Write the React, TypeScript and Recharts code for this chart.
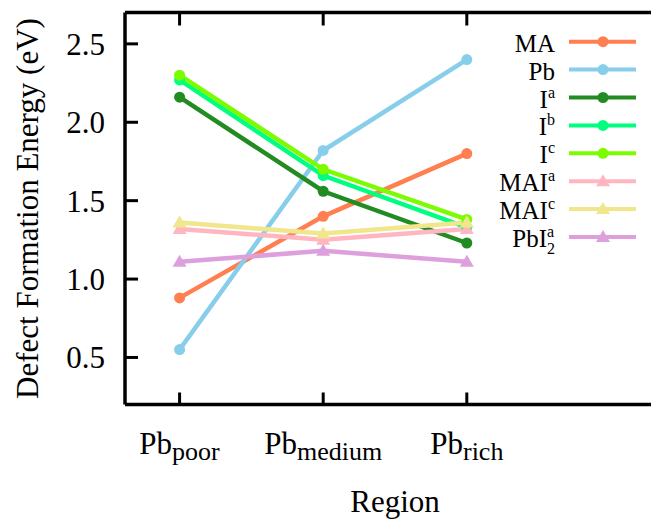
import { LineChart, Line, XAxis, YAxis, Legend } from "recharts";

const FONT = '"Liberation Serif", "Times New Roman", serif';

// x positions of the three regions
const regionX = [1, 2, 3];
const regionSub = ["poor", "medium", "rich"];
const yTicks = [0.5, 1.0, 1.5, 2.0, 2.5];

const MA = [0.88, 1.4, 1.8];
const Pb = [0.55, 1.82, 2.4];
const Ia = [2.16, 1.56, 1.23];
const Ib = [2.27, 1.66, 1.33];
const Ic = [2.3, 1.7, 1.38];
const MAIa = [1.32, 1.25, 1.32];
const MAIc = [1.36, 1.29, 1.36];
const PbI2a = [1.11, 1.18, 1.11];

const series = [
  { key: "MA", values: MA, color: "#ff7f50", base: "MA", sup: "", sub: "", tri: false },
  { key: "Pb", values: Pb, color: "#87ceeb", base: "Pb", sup: "", sub: "", tri: false },
  { key: "Ia", values: Ia, color: "#228b22", base: "I", sup: "a", sub: "", tri: false },
  { key: "Ib", values: Ib, color: "#00ff7f", base: "I", sup: "b", sub: "", tri: false },
  { key: "Ic", values: Ic, color: "#7cfc00", base: "I", sup: "c", sub: "", tri: false },
  { key: "MAIa", values: MAIa, color: "#ffb6c1", base: "MAI", sup: "a", sub: "", tri: true },
  { key: "MAIc", values: MAIc, color: "#f0e68c", base: "MAI", sup: "c", sub: "", tri: true },
  { key: "PbI2a", values: PbI2a, color: "#dda0dd", base: "PbI", sup: "a", sub: "2", tri: true },
];

const data = regionX.map((x, i) => {
  const row: any = { x };
  series.forEach((s) => (row[s.key] = s.values[i]));
  return row;
});

function Marker({ cx, cy, color, tri }: any) {
  if (cx == null || cy == null) return null;
  if (tri)
    return (
      <polygon
        points={`${cx},${cy - 7} ${cx - 7},${cy + 5} ${cx + 7},${cy + 5}`}
        fill={color}
      />
    );
  return <circle cx={cx} cy={cy} r={5.5} fill={color} />;
}

function YTick({ x, y, payload }: any) {
  return (
    <g>
      <line x1={x + 21} x2={x + 33} y1={y} y2={y} stroke="#000" strokeWidth={3} />
      <text x={x} y={y + 11} textAnchor="end" fontSize={31} fontFamily={FONT} fill="#000">
        {payload.value.toFixed(1)}
      </text>
    </g>
  );
}

function XTick({ x, y, payload }: any) {
  const i = regionX.indexOf(payload.value);
  return (
    <g>
      <line x1={x} x2={x} y1={y} y2={y - 12} stroke="#000" strokeWidth={3} />
      <text x={x} y={y + 49} textAnchor="middle" fontFamily={FONT} fill="#000">
        <tspan fontSize={31}>Pb</tspan>
        <tspan fontSize={26} dy={6}>
          {regionSub[i]}
        </tspan>
      </text>
    </g>
  );
}

// inward tick marks on the top and right frame
function TopTick({ x, y }: any) {
  return <line x1={x} x2={x} y1={y} y2={y + 13} stroke="#000" strokeWidth={3} />;
}

function RightTick({ x, y }: any) {
  return <line x1={x} x2={x - 12} y1={y} y2={y} stroke="#000" strokeWidth={3} />;
}

function YTitle({ viewBox }: any) {
  const { x, y, height } = viewBox;
  const tx = x - 86;
  const ty = y + height / 2;
  return (
    <text
      x={tx}
      y={ty}
      transform={`rotate(-90, ${tx}, ${ty})`}
      textAnchor="middle"
      fontSize={31}
      fontFamily={FONT}
      fill="#000"
    >
      Defect Formation Energy (eV)
    </text>
  );
}

function XTitle({ viewBox }: any) {
  const { x, y, width } = viewBox;
  return (
    <text x={x + width / 2} y={y + 107} textAnchor="middle" fontSize={31} fontFamily={FONT} fill="#000">
      Region
    </text>
  );
}

function LegendBox() {
  return (
    <svg width={180} height={240} style={{ display: "block" }}>
      {series.map((s, i) => {
        const cy = 21.7 + i * 27.9;
        return (
          <g key={s.key}>
            <text x={75} y={cy + 10} textAnchor="end" fontSize={25} fontFamily={FONT} fill="#000">
              {s.base}
              {s.sub ? (
                <>
                  <tspan fontSize={16} dy={7}>
                    {s.sub}
                  </tspan>
                  <tspan fontSize={16} dx={-8} dy={-17}>
                    {s.sup}
                  </tspan>
                </>
              ) : s.sup ? (
                <tspan fontSize={16} dy={-10}>
                  {s.sup}
                </tspan>
              ) : null}
            </text>
            <line x1={89} x2={156} y1={cy} y2={cy} stroke={s.color} strokeWidth={4} />
            <Marker cx={123} cy={cy} color={s.color} tri={s.tri} />
          </g>
        );
      })}
    </svg>
  );
}

export default function App() {
  return (
    <div style={{ width: 651, height: 511, overflow: "hidden", position: "relative" }}>
      <LineChart
        width={700}
        height={511}
        data={data}
        margin={{ top: 3.5, right: 42, bottom: 113.5, left: 116 }}
      >
        <XAxis
          dataKey="x"
          type="number"
          domain={[0.62, 4.38]}
          ticks={regionX}
          allowDataOverflow
          height={1}
          tickSize={0}
          tickMargin={0}
          tickLine={false}
          tick={<XTick />}
          axisLine={{ stroke: "#000", strokeWidth: 3.5 }}
          label={<XTitle />}
        />
        <XAxis
          xAxisId="t"
          orientation="top"
          dataKey="x"
          type="number"
          domain={[0.62, 4.38]}
          ticks={regionX}
          allowDataOverflow
          height={1}
          tickSize={0}
          tickMargin={0}
          tickLine={false}
          tick={<TopTick />}
          axisLine={{ stroke: "#000", strokeWidth: 3.5 }}
        />
        <YAxis
          type="number"
          domain={[0.2, 2.7]}
          ticks={yTicks}
          allowDataOverflow
          width={1}
          tickSize={0}
          tickMargin={20}
          tickLine={false}
          tick={<YTick />}
          axisLine={{ stroke: "#000", strokeWidth: 3.5 }}
          label={<YTitle />}
        />
        <YAxis
          yAxisId="r"
          orientation="right"
          type="number"
          domain={[0.2, 2.7]}
          ticks={yTicks}
          allowDataOverflow
          width={1}
          tickSize={0}
          tickMargin={0}
          tickLine={false}
          tick={<RightTick />}
          axisLine={{ stroke: "#000", strokeWidth: 3.5 }}
        />
        <Legend
          layout="horizontal"
          verticalAlign="middle"
          align="center"
          wrapperStyle={{ position: "absolute", left: 472, top: 12, width: 180 }}
          content={() => <LegendBox />}
        />
        {/* invisible copy so the top / right frame axes get their ticks */}
        <Line
          xAxisId="t"
          yAxisId="r"
          dataKey="MA"
          stroke="none"
          dot={false}
          activeDot={false}
          legendType="none"
          isAnimationActive={false}
        />
        {series.map((s) => (
          <Line
            key={s.key}
            dataKey={s.key}
            type="linear"
            stroke={s.color}
            strokeWidth={4.5}
            dot={(p: any) => <Marker key={`${s.key}-${p.index}`} cx={p.cx} cy={p.cy} color={s.color} tri={s.tri} />}
            activeDot={false}
            isAnimationActive={false}
          />
        ))}
      </LineChart>
    </div>
  );
}
